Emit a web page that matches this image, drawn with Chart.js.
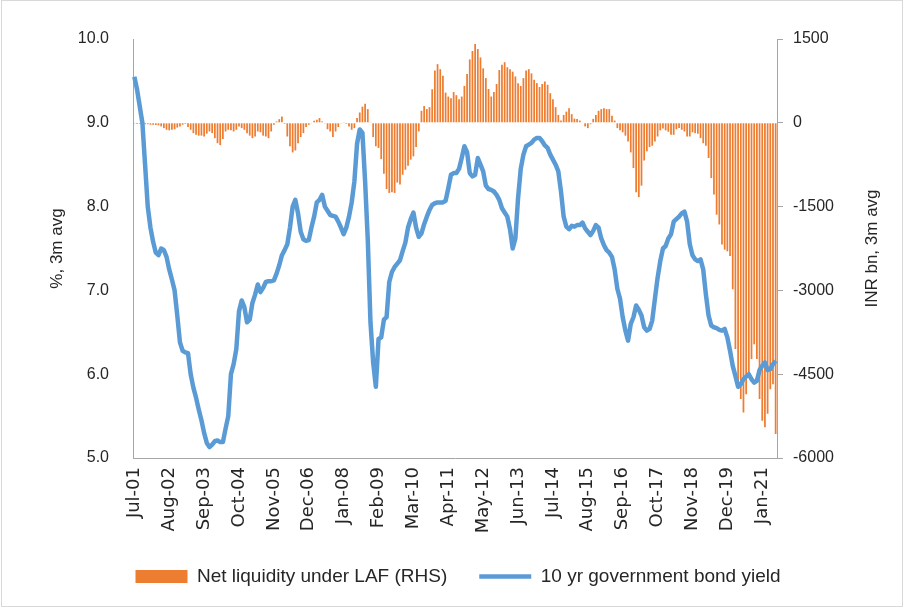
<!DOCTYPE html>
<html>
<head>
<meta charset="utf-8">
<script src="https://cdn.jsdelivr.net/npm/chart.js@4.4.1/dist/chart.umd.min.js"></script>
<style>
    html, body { margin: 0; padding: 0; background: #fff; }
    #wrap { width: 904px; height: 608px; }
</style>
</head>
<body>
<div id="wrap"><canvas id="myChart" width="904" height="608"></canvas></div>
<script>
// monthly, Jul-01 .. Jun-21
const monthNames = ['Jan', 'Feb', 'Mar', 'Apr', 'May', 'Jun', 'Jul', 'Aug', 'Sep', 'Oct', 'Nov', 'Dec'];
const startYear = 2001;
const startMonth = 6; // Jul
const tickEvery = 13;

// 10 yr government bond yield, %, 3m avg (left axis)
const bondYield = [
    9.55, 9.40, 9.20, 9.00, 8.50, 8.00, 7.75, 7.58, 7.45, 7.42,
    7.50, 7.48, 7.40, 7.25, 7.13, 7.00, 6.70, 6.38, 6.28, 6.26,
    6.25, 6.00, 5.84, 5.72, 5.58, 5.45, 5.30, 5.18, 5.13, 5.16,
    5.20, 5.21, 5.19, 5.19, 5.35, 5.50, 6.00, 6.12, 6.30, 6.75,
    6.88, 6.80, 6.62, 6.65, 6.85, 6.95, 7.07, 6.98, 7.03, 7.10,
    7.11, 7.11, 7.12, 7.20, 7.30, 7.42, 7.48, 7.55, 7.75, 8.00,
    8.08, 7.92, 7.70, 7.61, 7.59, 7.60, 7.75, 7.88, 8.05, 8.08,
    8.14, 8.00, 7.95, 7.90, 7.89, 7.88, 7.82, 7.75, 7.67, 7.75,
    7.88, 8.05, 8.30, 8.75, 8.92, 8.88, 8.30, 7.60, 6.62, 6.14,
    5.85, 6.42, 6.44, 6.65, 6.68, 7.10, 7.22, 7.28, 7.32, 7.36,
    7.47, 7.57, 7.75, 7.85, 7.93, 7.75, 7.64, 7.68, 7.79, 7.88,
    7.96, 8.02, 8.04, 8.05, 8.05, 8.05, 8.07, 8.22, 8.38, 8.40,
    8.40, 8.45, 8.58, 8.72, 8.65, 8.40, 8.36, 8.38, 8.58, 8.50,
    8.42, 8.25, 8.21, 8.20, 8.18, 8.14, 8.08, 7.98, 7.93, 7.88,
    7.73, 7.50, 7.62, 8.10, 8.45, 8.62, 8.72, 8.74, 8.76, 8.80,
    8.82, 8.82, 8.78, 8.73, 8.70, 8.62, 8.56, 8.50, 8.42, 8.18,
    7.88, 7.76, 7.73, 7.77, 7.76, 7.78, 7.78, 7.81, 7.74, 7.70,
    7.66, 7.71, 7.78, 7.75, 7.62, 7.54, 7.48, 7.45, 7.40, 7.25,
    7.02, 6.90, 6.68, 6.52, 6.40, 6.60, 6.68, 6.82, 6.77, 6.70,
    6.56, 6.52, 6.54, 6.64, 6.90, 7.15, 7.35, 7.50, 7.53, 7.62,
    7.67, 7.82, 7.85, 7.88, 7.92, 7.94, 7.82, 7.55, 7.42, 7.37,
    7.35, 7.37, 7.25, 6.95, 6.70, 6.58, 6.56, 6.55, 6.53, 6.52,
    6.54, 6.44, 6.28, 6.10, 5.98, 5.85, 5.88, 5.94, 5.97, 6.00,
    5.94, 5.90, 5.92, 6.05, 6.10, 6.14, 6.05, 6.06, 6.12, 6.16
];

// Net liquidity under LAF, INR bn, 3m avg (right axis)
const netLiquidity = [
    -15, -20, -20, -20, -25, -25, -35, -35, -40, -45,
    -65, -95, -125, -135, -125, -115, -85, -65, -35, -20,
    -75, -125, -185, -215, -230, -230, -245, -195, -155, -185,
    -275, -365, -400, -290, -155, -125, -135, -155, -125, -65,
    -95, -125, -185, -230, -275, -245, -155, -170, -230, -245,
    -275, -155, -35, 25, 65, 115, -20, -245, -420, -530,
    -495, -365, -255, -185, -75, -35, -5, 35, 55, 85,
    25, -5, -115, -155, -255, -155, -75, -5, 5, -20,
    -65, -125, -95, 85, 185, 290, 340, 245, 5, -255,
    -420, -450, -650, -910, -1185, -1255, -1245, -1255, -1070, -1105,
    -930, -840, -770, -660, -600, -435, -155, 215, 300, 245,
    280, 600, 935, 1050, 960, 840, 540, 470, 440, 550,
    495, 420, 470, 660, 875, 1135, 1285, 1410, 1320, 1170,
    975, 800, 605, 470, 550, 695, 945, 1040, 1085, 995,
    960, 915, 830, 710, 660, 800, 935, 960, 885, 770,
    710, 640, 695, 740, 680, 530, 420, 280, 140, 40,
    140, 200, 260, 155, 75, 70, 40, 10, -65, -95,
    -25, 70, 140, 215, 245, 260, 245, 245, 125, 40,
    -95, -135, -170, -230, -335, -530, -810, -1245, -1330, -1125,
    -675, -510, -435, -410, -335, -245, -135, -100, -135, -160,
    -215, -215, -115, -95, -125, -155, -245, -245, -170, -185,
    -195, -275, -365, -410, -630, -990, -1285, -1645, -1820, -2180,
    -2270, -2300, -2385, -2980, -4050, -4680, -4945, -5185, -4860, -4500,
    -4230, -3965, -4230, -4945, -5335, -5450, -5210, -4770, -4680, -5570
];

const leftTicks = { min: 5, max: 10, step: 1 };
const rightTicks = { min: -6000, max: 1500, step: 1500 };

const seriesNames = ['Net liquidity under LAF (RHS)', '10 yr government bond yield'];
const axisTitles = ['%, 3m avg', 'INR bn, 3m avg'];

const ORANGE = '#ED7D31';
const BLUE = '#5B9BD5';
const AXIS = '#A6A6A6';
const TEXT = '#262626';

let months = [];
for (let i = 0; i < bondYield.length; i++) {
    const m = (startMonth + i) % 12;
    const y = startYear + Math.floor((startMonth + i) / 12);
    months.push(monthNames[m] + '-' + String(y % 100).padStart(2, '0'));
}

// axis titles (both read bottom to top, Excel style) and the outer frame
const titlesPlugin = {
    id: 'titlesPlugin',
    afterDraw(chart) {
        const { ctx, chartArea } = chart;
        const midY = (chartArea.top + chartArea.bottom) / 2;
        ctx.save();
        ctx.font = '17px "Liberation Sans", Arial, sans-serif';
        ctx.fillStyle = TEXT;
        ctx.textAlign = 'center';
        ctx.textBaseline = 'middle';
        const spots = [chartArea.left - 76, chartArea.right + 95];
        spots.forEach((x, i) => {
            ctx.save();
            ctx.translate(x, midY);
            ctx.rotate(-Math.PI / 2);
            ctx.fillText(axisTitles[i], 0, 0);
            ctx.restore();
        });
        ctx.strokeStyle = '#D9D9D9';
        ctx.lineWidth = 1;
        ctx.strokeRect(1.5, 0.5, chart.width - 3, chart.height - 2);
        ctx.restore();
    }
};

const ctx = document.getElementById('myChart').getContext('2d');
new Chart(ctx, {
    data: {
        labels: months,
        datasets: [{
            type: 'bar',
            label: seriesNames[0],
            data: netLiquidity,
            yAxisID: 'y1',
            backgroundColor: ORANGE,
            borderWidth: 0,
            barPercentage: 0.65,
            categoryPercentage: 1.0,
            order: 1
        }, {
            type: 'line',
            label: seriesNames[1],
            data: bondYield,
            yAxisID: 'y',
            borderColor: BLUE,
            backgroundColor: BLUE,
            borderWidth: 4.5,
            pointRadius: 0,
            tension: 0,
            borderJoinStyle: 'round',
            order: 0
        }]
    },
    options: {
        responsive: false,
        animation: false,
        devicePixelRatio: 1,
        layout: {
            padding: { left: 12, right: 0, top: 39, bottom: 12 }
        },
        plugins: {
            tooltip: { enabled: false },
            legend: {
                position: 'bottom',
                labels: {
                    usePointStyle: true,
                    pointStyleWidth: 52,
                    boxHeight: 13,
                    padding: 32,
                    color: TEXT,
                    font: { family: '"Liberation Sans", Arial, sans-serif', size: 19 },
                    generateLabels: chart => chart.data.datasets.map((ds, i) => ({
                        text: ds.label,
                        datasetIndex: i,
                        fillStyle: ds.type === 'bar' ? ORANGE : BLUE,
                        strokeStyle: ds.type === 'bar' ? ORANGE : BLUE,
                        lineWidth: ds.type === 'bar' ? 0 : 4.5,
                        pointStyle: ds.type === 'bar' ? 'rect' : 'line',
                        fontColor: TEXT,
                        hidden: false
                    }))
                }
            }
        },
        scales: {
            x: {
                type: 'category',
                grid: { display: false, drawTicks: false },
                border: { display: true, color: AXIS, width: 1 },
                afterFit: scale => { scale.height = 77; },
                ticks: {
                    autoSkip: false,
                    maxRotation: 90,
                    minRotation: 90,
                    padding: 9,
                    color: TEXT,
                    font: { family: '"DejaVu Sans", sans-serif', size: 18 },
                    callback: (v, i) => (i % tickEvery === 0 ? months[i] : '')
                }
            },
            y: {
                position: 'left',
                min: leftTicks.min,
                max: leftTicks.max,
                grid: { display: false, drawTicks: false },
                border: { display: true, color: AXIS, width: 1 },
                afterFit: scale => { scale.width = 121; },
                ticks: {
                    stepSize: leftTicks.step,
                    padding: 24,
                    color: TEXT,
                    font: { family: '"Liberation Sans", Arial, sans-serif', size: 16 },
                    callback: v => v.toFixed(1)
                }
            },
            y1: {
                position: 'right',
                min: rightTicks.min,
                max: rightTicks.max,
                grid: { display: true, drawOnChartArea: false, drawTicks: true, tickLength: 6, color: AXIS },
                border: { display: true, color: AXIS, width: 1 },
                afterFit: scale => { scale.width = 127; },
                ticks: {
                    stepSize: rightTicks.step,
                    padding: 10,
                    color: TEXT,
                    font: { family: '"Liberation Sans", Arial, sans-serif', size: 16 },
                    callback: v => String(v)
                }
            }
        }
    },
    plugins: [titlesPlugin]
});
</script>
</body>
</html>
